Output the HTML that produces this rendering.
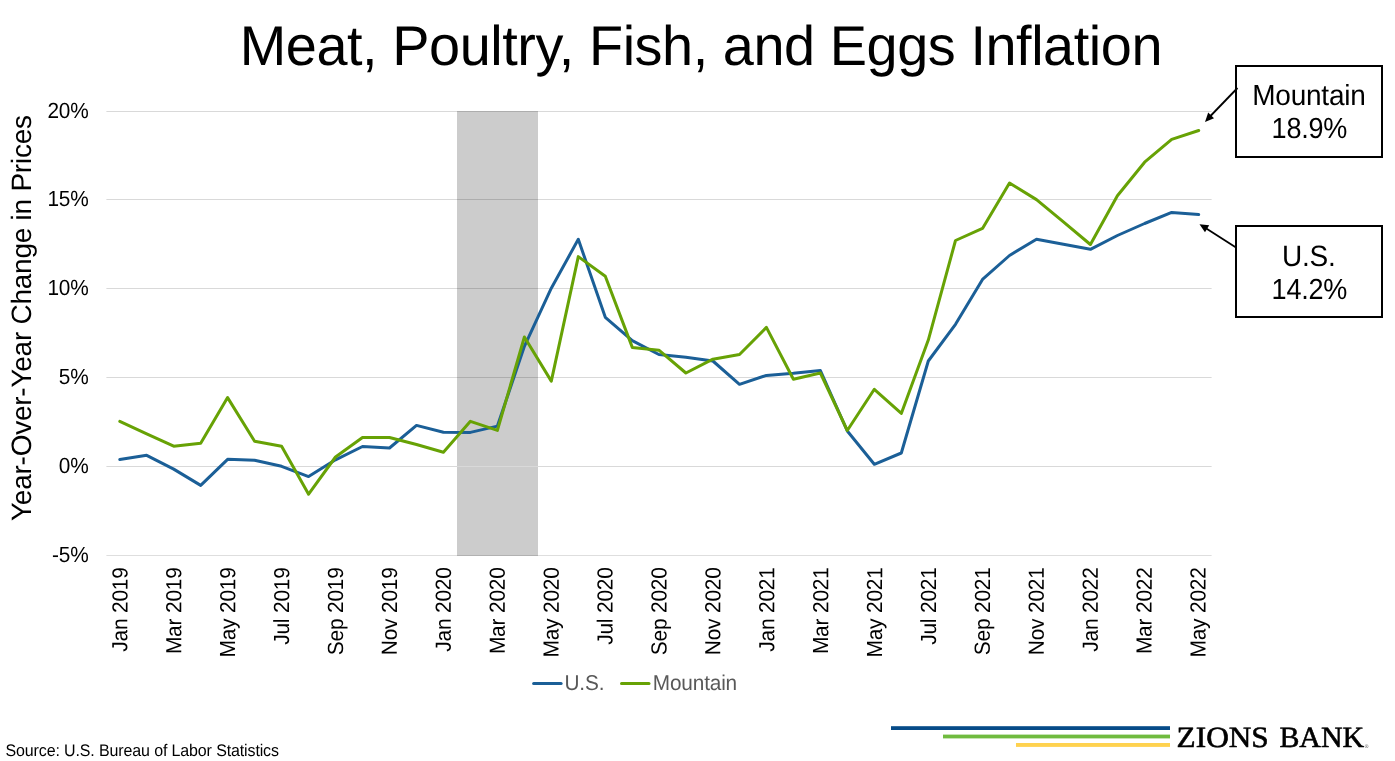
<!DOCTYPE html>
<html lang="en">
<head>
<meta charset="utf-8">
<title>Meat, Poultry, Fish, and Eggs Inflation</title>
<style>
html,body{margin:0;padding:0;background:#fff;}
body{width:1395px;height:761px;overflow:hidden;position:relative;font-family:"Liberation Sans",Arial,sans-serif;}
svg{position:absolute;left:0;top:0;display:block;}
text{font-family:"Liberation Sans",Arial,sans-serif;letter-spacing:-0.008em;text-rendering:geometricPrecision;}
text.serif{font-family:"Liberation Serif","Times New Roman",serif;letter-spacing:0;}
</style>
</head>
<body>
<svg width="1395" height="761" viewBox="0 0 1395 761">
<rect x="0" y="0" width="1395" height="761" fill="#ffffff"/>
<text transform="translate(239.70,64.90) scale(0.9975,1.0000)" font-size="56" fill="#000">Meat, Poultry, Fish, and Eggs Inflation</text>
<rect x="106.4" y="111" width="1105.2" height="1" fill="#d9d9d9"/>
<rect x="106.4" y="199" width="1105.2" height="1" fill="#d9d9d9"/>
<rect x="106.4" y="288" width="1105.2" height="1" fill="#d9d9d9"/>
<rect x="106.4" y="377" width="1105.2" height="1" fill="#d9d9d9"/>
<rect x="106.4" y="555" width="1105.2" height="1" fill="#dedede"/>
<rect x="457" y="111" width="81" height="445" fill="#000" fill-opacity="0.2"/>
<rect x="106.4" y="466" width="1105.2" height="1" fill="#d9d9d9"/>
<text transform="translate(88.60,118.15) scale(0.9760,1.0250)" font-size="21.33" text-anchor="end" fill="#000">20%</text>
<text transform="translate(88.60,206.15) scale(0.9760,1.0250)" font-size="21.33" text-anchor="end" fill="#000">15%</text>
<text transform="translate(88.60,295.15) scale(0.9760,1.0250)" font-size="21.33" text-anchor="end" fill="#000">10%</text>
<text transform="translate(88.60,384.15) scale(0.9760,1.0250)" font-size="21.33" text-anchor="end" fill="#000">5%</text>
<text transform="translate(88.60,473.15) scale(0.9760,1.0250)" font-size="21.33" text-anchor="end" fill="#000">0%</text>
<text transform="translate(88.60,562.15) scale(0.9760,1.0250)" font-size="21.33" text-anchor="end" fill="#000">-5%</text>
<text transform="translate(31.05,521.00) rotate(-90) scale(0.9980,1.0000)" font-size="28" fill="#000">Year-Over-Year Change in Prices</text>
<text transform="translate(127.47,567.30) rotate(-89.9) scale(0.9780,1.0250)" font-size="21.33" text-anchor="end" fill="#000">Jan 2019</text>
<text transform="translate(181.38,567.30) rotate(-89.9) scale(0.9780,1.0250)" font-size="21.33" text-anchor="end" fill="#000">Mar 2019</text>
<text transform="translate(235.28,567.30) rotate(-89.9) scale(0.9780,1.0250)" font-size="21.33" text-anchor="end" fill="#000">May 2019</text>
<text transform="translate(289.19,567.30) rotate(-89.9) scale(0.9780,1.0250)" font-size="21.33" text-anchor="end" fill="#000">Jul 2019</text>
<text transform="translate(343.09,567.30) rotate(-89.9) scale(0.9780,1.0250)" font-size="21.33" text-anchor="end" fill="#000">Sep 2019</text>
<text transform="translate(397.00,567.30) rotate(-89.9) scale(0.9780,1.0250)" font-size="21.33" text-anchor="end" fill="#000">Nov 2019</text>
<text transform="translate(450.91,567.30) rotate(-89.9) scale(0.9780,1.0250)" font-size="21.33" text-anchor="end" fill="#000">Jan 2020</text>
<text transform="translate(504.81,567.30) rotate(-89.9) scale(0.9780,1.0250)" font-size="21.33" text-anchor="end" fill="#000">Mar 2020</text>
<text transform="translate(558.72,567.30) rotate(-89.9) scale(0.9780,1.0250)" font-size="21.33" text-anchor="end" fill="#000">May 2020</text>
<text transform="translate(612.62,567.30) rotate(-89.9) scale(0.9780,1.0250)" font-size="21.33" text-anchor="end" fill="#000">Jul 2020</text>
<text transform="translate(666.53,567.30) rotate(-89.9) scale(0.9780,1.0250)" font-size="21.33" text-anchor="end" fill="#000">Sep 2020</text>
<text transform="translate(720.44,567.30) rotate(-89.9) scale(0.9780,1.0250)" font-size="21.33" text-anchor="end" fill="#000">Nov 2020</text>
<text transform="translate(774.34,567.30) rotate(-89.9) scale(0.9780,1.0250)" font-size="21.33" text-anchor="end" fill="#000">Jan 2021</text>
<text transform="translate(828.25,567.30) rotate(-89.9) scale(0.9780,1.0250)" font-size="21.33" text-anchor="end" fill="#000">Mar 2021</text>
<text transform="translate(882.15,567.30) rotate(-89.9) scale(0.9780,1.0250)" font-size="21.33" text-anchor="end" fill="#000">May 2021</text>
<text transform="translate(936.06,567.30) rotate(-89.9) scale(0.9780,1.0250)" font-size="21.33" text-anchor="end" fill="#000">Jul 2021</text>
<text transform="translate(989.97,567.30) rotate(-89.9) scale(0.9780,1.0250)" font-size="21.33" text-anchor="end" fill="#000">Sep 2021</text>
<text transform="translate(1043.87,567.30) rotate(-89.9) scale(0.9780,1.0250)" font-size="21.33" text-anchor="end" fill="#000">Nov 2021</text>
<text transform="translate(1097.78,567.30) rotate(-89.9) scale(0.9780,1.0250)" font-size="21.33" text-anchor="end" fill="#000">Jan 2022</text>
<text transform="translate(1151.68,567.30) rotate(-89.9) scale(0.9780,1.0250)" font-size="21.33" text-anchor="end" fill="#000">Mar 2022</text>
<text transform="translate(1205.59,567.30) rotate(-89.9) scale(0.9780,1.0250)" font-size="21.33" text-anchor="end" fill="#000">May 2022</text>
<polyline points="119.8,459.5 146.7,455.3 173.7,469.1 200.7,485.4 227.6,459.3 254.6,460.3 281.6,466.3 308.6,476.6 335.5,459.8 362.5,446.5 389.5,448.0 416.5,425.4 443.4,432.2 470.4,432.4 497.4,426.1 524.4,346.3 551.3,288.2 578.3,239.3 605.3,317.3 632.3,340.7 658.9,354.5 685.9,357.2 712.9,361.0 739.5,384.3 766.4,375.4 793.4,373.3 820.4,370.5 847.3,431.0 874.3,464.3 901.3,453.0 928.3,361.0 955.5,324.3 982.5,279.4 1009.5,255.5 1036.5,239.2 1063.4,244.3 1090.4,249.3 1117.4,235.5 1144.6,223.5 1171.7,212.4 1198.7,214.6" fill="none" stroke="#1b5f97" stroke-width="3" stroke-linejoin="round" stroke-linecap="round"/>
<polyline points="119.8,421.4 146.7,433.9 173.7,446.2 200.7,443.2 227.6,397.6 254.6,441.2 281.6,446.2 308.6,494.2 335.5,457.0 362.5,437.5 389.5,437.5 416.5,444.5 443.4,452.3 470.4,421.3 497.4,430.4 524.4,337.0 551.3,381.1 578.3,256.6 605.3,276.2 632.3,347.4 658.9,350.2 685.9,373.0 712.9,359.2 739.5,354.5 766.4,327.4 793.4,379.3 820.4,373.0 847.3,430.5 874.3,389.3 901.3,413.4 928.3,340.1 955.5,240.5 982.5,228.4 1009.5,183.0 1036.5,199.6 1063.4,221.9 1090.4,244.5 1117.4,195.8 1144.6,162.2 1171.7,139.4 1198.7,130.5" fill="none" stroke="#67a205" stroke-width="3" stroke-linejoin="round" stroke-linecap="round"/>
<line x1="533.6" x2="561.1" y1="683.5" y2="683.5" stroke="#1b5f97" stroke-width="3" stroke-linecap="round"/>
<text transform="translate(564.50,689.70) scale(0.9750,1.0000)" font-size="21.33" fill="#595959">U.S.</text>
<line x1="621.5" x2="649" y1="683.5" y2="683.5" stroke="#67a205" stroke-width="3" stroke-linecap="round"/>
<text transform="translate(652.80,689.70) scale(0.9750,1.0000)" font-size="21.33" fill="#595959">Mountain</text>
<rect x="1236" y="66" width="146" height="91" fill="#fff" stroke="#000" stroke-width="2"/>
<text transform="translate(1308.90,104.80) scale(1.0000,1.0350)" font-size="28" text-anchor="middle" fill="#000">Mountain</text>
<text transform="translate(1309.40,137.80) scale(0.9660,1.0380)" font-size="28" text-anchor="middle" fill="#000">18.9%</text>
<rect x="1236" y="226" width="146" height="91" fill="#fff" stroke="#000" stroke-width="2"/>
<text transform="translate(1308.70,265.70) scale(1.0000,1.0500)" font-size="28" text-anchor="middle" fill="#000">U.S.</text>
<text transform="translate(1309.40,298.80) scale(0.9660,1.0380)" font-size="28" text-anchor="middle" fill="#000">14.2%</text>
<line x1="1237.5" y1="88" x2="1209" y2="117.5" stroke="#000" stroke-width="1.8"/>
<polygon points="1205,121.9 1208.2,112.6 1214.0,118.3" fill="#000"/>
<line x1="1236" y1="247.6" x2="1204" y2="227" stroke="#000" stroke-width="1.8"/>
<polygon points="1199.5,224.2 1209.2,225.3 1205.0,232.2" fill="#000"/>
<text transform="translate(5.50,755.90) scale(1.0000,1.0500)" font-size="16" fill="#000">Source: U.S. Bureau of Labor Statistics</text>
<rect x="891" y="726.2" width="279" height="3.8" fill="#064b88"/>
<rect x="943" y="734.6" width="227" height="3.8" fill="#70bb3f"/>
<rect x="1016" y="743" width="154" height="3.9" fill="#ffd24f"/>
<g stroke="#000" stroke-width="0.6" stroke-linejoin="round">
<text class="serif" transform="translate(1176.60,747.30) scale(1.0200,0.9600)" font-size="30.7" fill="#000">ZIONS</text>
<text class="serif" transform="translate(1279.40,747.30) scale(0.9750,0.9600)" font-size="30.7" fill="#000">BANK</text>
</g>
<text transform="translate(1364.80,747.60)" font-size="5" fill="#555">®</text>
</svg>
</body>
</html>
